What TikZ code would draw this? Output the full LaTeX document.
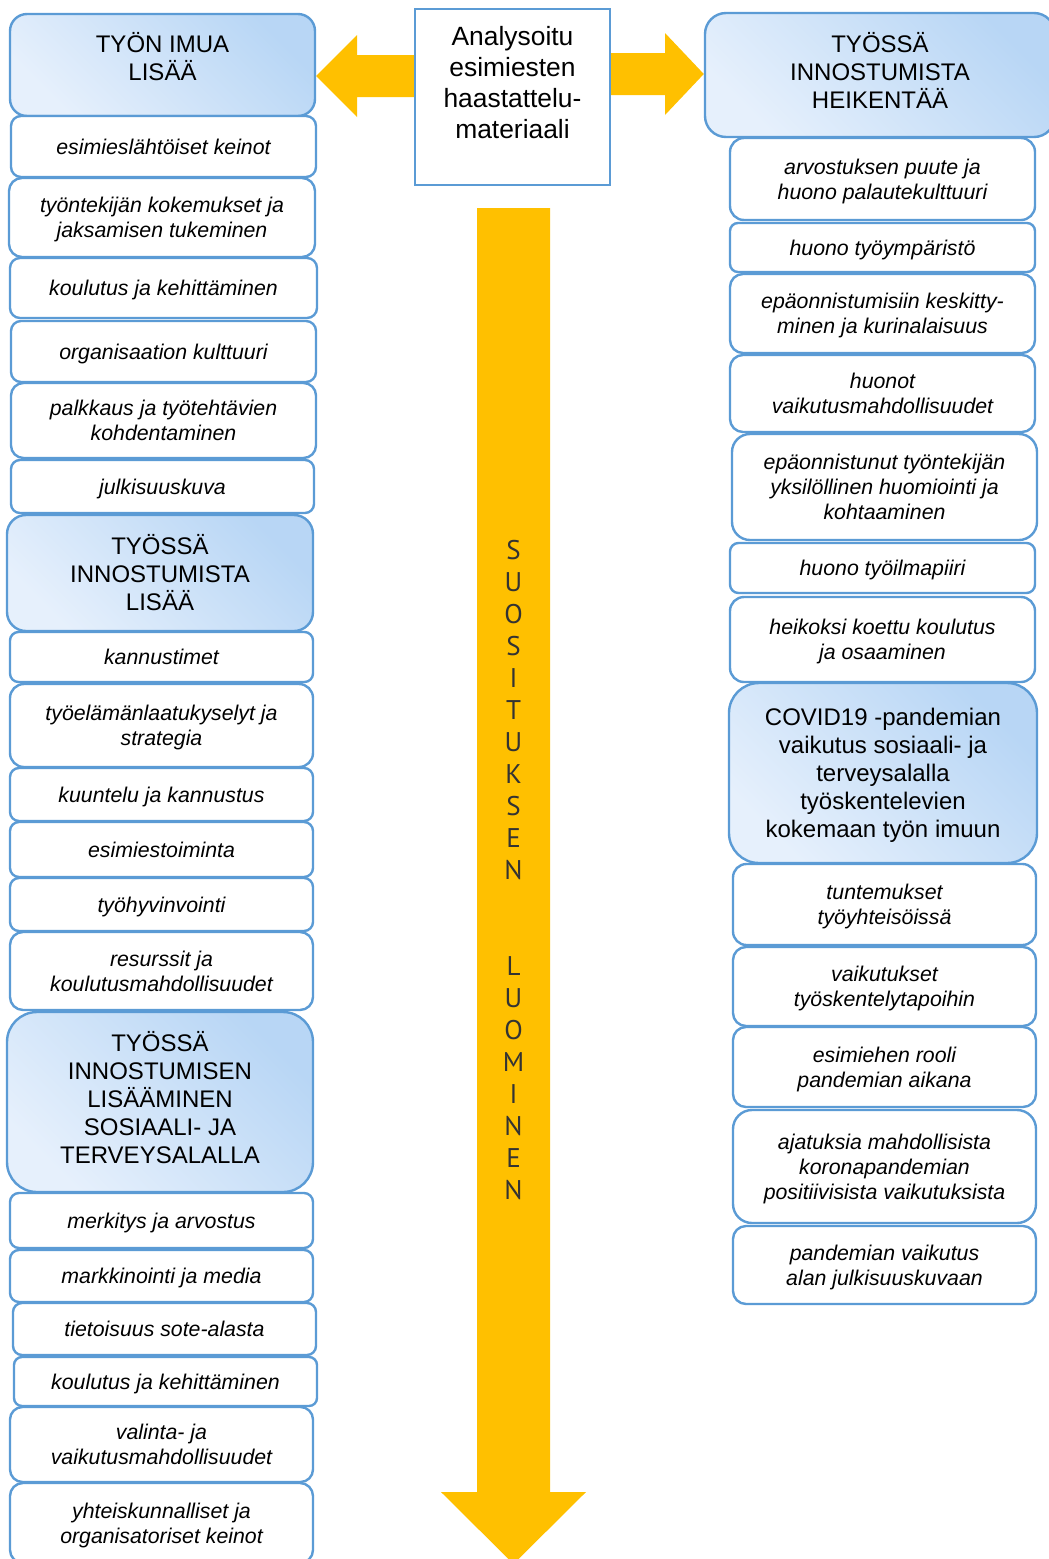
\documentclass[tikz,border=0pt]{standalone}
\usepackage{fontspec}
\setmainfont{Liberation Sans}
\newfontfamily\dinfont{PT Sans}
\usetikzlibrary{backgrounds}

\definecolor{boxline}{HTML}{5B9BD5}
\definecolor{hdrdark}{HTML}{B8D6F5}
\definecolor{hdrlight}{HTML}{E6F0FC}
\definecolor{arrowgold}{HTML}{FFC000}
\definecolor{lettergray}{HTML}{333333}

\tikzset{
  itembox/.style={draw=boxline, line width=2.4pt, fill=white, align=center,
    inner sep=2pt, font=\fontsize{21.3}{25}\selectfont\itshape,
    text height=20.5pt, text depth=5pt},
  lines2/.style={text height=45.5pt},
  lines3/.style={text height=70.5pt},
  hdrbox/.style={draw=boxline, line width=2.4pt, align=center, inner sep=2pt,
    font=\fontsize{24}{28}\selectfont,
    bottom color=hdrlight, top color=hdrdark, shading angle=-45},
  srcbox/.style={draw=boxline, line width=2.4pt, fill=white, align=center,
    inner sep=2pt, font=\fontsize{26.4}{31}\selectfont},
  blockarrow/.style={fill=arrowgold},
  vertletters/.style={align=center, text=lettergray,
    font=\dinfont\fontsize{27}{32}\selectfont},
}

\begin{document}
\begin{tikzpicture}[x=1pt,y=-1pt]
\useasboundingbox (0,0) rectangle (1049,1559);

% source material in the middle
\node[srcbox, minimum width=195pt, minimum height=176pt, text depth=29pt] (src) at (512.5,97)
  {Analysoitu\\esimiesten\\haastattelu-\\materiaali};

% left column
\node[hdrbox, minimum width=305pt, minimum height=102pt, rounded corners=17pt, text depth=18pt] (hdr1) at (162.5,65) {TYÖN IMUA\\LISÄÄ};
\node[itembox, minimum width=305pt, minimum height=61pt, rounded corners=10pt] (l1) at (163.5,146.5) {esimieslähtöiset keinot};
\node[itembox, lines2, minimum width=306pt, minimum height=79pt, rounded corners=13pt] (l2) at (162,217.5) {työntekijän kokemukset ja\\jaksamisen tukeminen};
\node[itembox, minimum width=307pt, minimum height=60pt, rounded corners=10pt] (l3) at (163.5,288) {koulutus ja kehittäminen};
\node[itembox, minimum width=305pt, minimum height=61pt, rounded corners=10pt] (l4) at (163.5,351.5) {organisaation kulttuuri};
\node[itembox, lines2, minimum width=305pt, minimum height=75pt, rounded corners=12.5pt] (l5) at (163.5,420.5) {palkkaus ja työtehtävien\\kohdentaminen};
\node[itembox, minimum width=303pt, minimum height=53pt, rounded corners=9pt] (l6) at (162.5,486.5) {julkisuuskuva};
\node[hdrbox, minimum width=306pt, minimum height=116pt, rounded corners=19pt] (hdr2) at (160,573) {TYÖSSÄ\\INNOSTUMISTA\\LISÄÄ};
\node[itembox, minimum width=303pt, minimum height=50pt, rounded corners=8.5pt] (l7) at (161.5,657) {kannustimet};
\node[itembox, lines2, minimum width=303pt, minimum height=83pt, rounded corners=14pt] (l8) at (161.5,725.5) {työelämänlaatukyselyt ja\\strategia};
\node[itembox, minimum width=303pt, minimum height=53pt, rounded corners=9pt] (l9) at (161.5,794.5) {kuuntelu ja kannustus};
\node[itembox, minimum width=303pt, minimum height=55pt, rounded corners=9pt] (l10) at (161.5,849.5) {esimiestoiminta};
\node[itembox, minimum width=303pt, minimum height=53pt, rounded corners=9pt] (l11) at (161.5,904.5) {työhyvinvointi};
\node[itembox, lines2, minimum width=303pt, minimum height=78pt, rounded corners=13pt] (l12) at (161.5,971) {resurssit ja\\koulutusmahdollisuudet};
\node[hdrbox, minimum width=306pt, minimum height=180pt, rounded corners=30pt, text depth=9pt] (hdr3) at (160,1102) {TYÖSSÄ\\INNOSTUMISEN\\LISÄÄMINEN\\SOSIAALI- JA\\TERVEYSALALLA};
\node[itembox, minimum width=303pt, minimum height=55pt, rounded corners=9pt] (l13) at (161.5,1220.5) {merkitys ja arvostus};
\node[itembox, minimum width=303pt, minimum height=52pt, rounded corners=9pt] (l14) at (161.5,1276) {markkinointi ja media};
\node[itembox, minimum width=303pt, minimum height=52pt, rounded corners=9pt] (l15) at (164.5,1329) {tietoisuus sote-alasta};
\node[itembox, minimum width=303pt, minimum height=49pt, rounded corners=8pt] (l16) at (165.5,1381.5) {koulutus ja kehittäminen};
\node[itembox, lines2, minimum width=303pt, minimum height=75pt, rounded corners=12.5pt] (l17) at (161.5,1444.5) {valinta- ja\\vaikutusmahdollisuudet};
\node[itembox, lines2, minimum width=303pt, minimum height=80pt, rounded corners=13pt] (l18) at (161.5,1523) {yhteiskunnalliset ja\\organisatoriset keinot};

% right column
\node[hdrbox, minimum width=350pt, minimum height=124pt, rounded corners=21pt, text depth=10pt] (hdrR) at (880,75) {TYÖSSÄ\\INNOSTUMISTA\\HEIKENTÄÄ};
\node[itembox, lines2, minimum width=305pt, minimum height=82pt, rounded corners=14pt] (r1) at (882.5,179) {arvostuksen puute ja\\huono palautekulttuuri};
\node[itembox, minimum width=305pt, minimum height=49pt, rounded corners=8pt] (r2) at (882.5,247.5) {huono työympäristö};
\node[itembox, lines2, minimum width=305pt, minimum height=79pt, rounded corners=13pt] (r3) at (882.5,313.5) {epäonnistumisiin keskitty-\\minen ja kurinalaisuus};
\node[itembox, lines2, minimum width=305pt, minimum height=77pt, rounded corners=13pt] (r4) at (882.5,393.5) {huonot\\vaikutusmahdollisuudet};
\node[itembox, lines3, minimum width=305pt, minimum height=106pt, rounded corners=18pt] (r5) at (884.5,487) {epäonnistunut työntekijän\\yksilöllinen huomiointi ja\\kohtaaminen};
\node[itembox, minimum width=305pt, minimum height=50pt, rounded corners=8.5pt] (r6) at (882.5,568) {huono työilmapiiri};
\node[itembox, lines2, minimum width=305pt, minimum height=85pt, rounded corners=14pt] (r7) at (882.5,639.5) {heikoksi koettu koulutus\\ja osaaminen};
\node[hdrbox, minimum width=308pt, minimum height=180pt, rounded corners=30pt, text depth=0pt] (hdrC) at (883,773) {COVID19 -pandemian\\vaikutus sosiaali- ja\\terveysalalla\\työskentelevien\\kokemaan työn imuun};
\node[itembox, lines2, minimum width=303pt, minimum height=81pt, rounded corners=13.5pt] (r8) at (884.5,904.5) {tuntemukset\\työyhteisöissä};
\node[itembox, lines2, minimum width=303pt, minimum height=79pt, rounded corners=13pt] (r9) at (884.5,986.5) {vaikutukset\\työskentelytapoihin};
\node[itembox, lines2, minimum width=303pt, minimum height=80pt, rounded corners=13pt] (r10) at (884.5,1067) {esimiehen rooli\\pandemian aikana};
\node[itembox, lines3, minimum width=303pt, minimum height=113pt, rounded corners=19pt] (r11) at (884.5,1166.5) {ajatuksia mahdollisista\\koronapandemian\\positiivisista vaikutuksista};
\node[itembox, lines2, minimum width=303pt, minimum height=78pt, rounded corners=13pt] (r12) at (884.5,1265) {pandemian vaikutus\\alan julkisuuskuvaan};

% block arrows, drawn behind the boxes
\begin{scope}[on background layer]
  \fill[blockarrow] (src.west |- 0,55) -- (357,55) -- (357,35) -- (hdr1.east |- 0,76)
    -- (357,117) -- (357,97) -- (src.west |- 0,97) -- cycle;
  \fill[blockarrow] (src.east |- 0,53) -- (665,53) -- (665,33) -- (hdrR.west |- 0,74)
    -- (665,115) -- (665,95) -- (src.east |- 0,95) -- cycle;
  \fill[blockarrow] (477,208) -- (550,208) -- (550,1492) -- (586,1492) -- (513.5,1564)
    -- (441,1492) -- (477,1492) -- cycle;
\end{scope}

% lettering along the downward arrow
\node[vertletters] (rec) at (513.5,870)
  {S\\U\\O\\S\\I\\T\\U\\K\\S\\E\\N\\[64pt]L\\U\\O\\M\\I\\N\\E\\N};
\end{tikzpicture}
\end{document}
